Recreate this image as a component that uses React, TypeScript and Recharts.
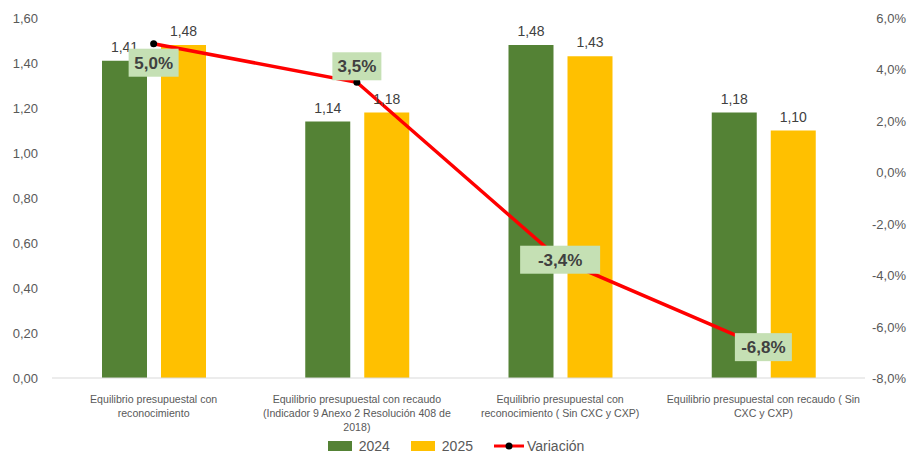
import React from 'react';
import {
  ComposedChart,
  Bar,
  Line,
  XAxis,
  YAxis,
  Legend,
  LabelList,
} from 'recharts';

const categories = [
  'Equilibrio presupuestal con\nreconocimiento',
  'Equilibrio presupuestal con recaudo\n(Indicador 9 Anexo 2 Resolución 408 de\n2018)',
  'Equilibrio presupuestal con\nreconocimiento ( Sin CXC y CXP)',
  'Equilibrio presupuestal con recaudo ( Sin\nCXC y CXP)',
];
const values2024 = [1.41, 1.14, 1.48, 1.18];
const values2025 = [1.48, 1.18, 1.43, 1.1];
const variacion = [5.0, 3.5, -3.4, -6.8];

const leftTicks = [0, 0.2, 0.4, 0.6, 0.8, 1.0, 1.2, 1.4, 1.6];
const rightTicks = [-8, -6, -4, -2, 0, 2, 4, 6];

const data = categories.map((name, i) => ({
  name,
  y2024: values2024[i],
  y2025: values2025[i],
  variacion: variacion[i],
}));

const FONT = "'Liberation Sans', Arial, sans-serif";
const GREEN = '#548235';
const YELLOW = '#FFC000';
const RED = '#FF0000';
const TEXT = '#595959';

const fmt2 = (v: number) => v.toFixed(2).replace('.', ',');
const fmtPct = (v: number) => v.toFixed(1).replace('.', ',') + '%';

// label placement tweaks for the variation boxes (dy, box width)
const boxDy = [19, -16, 0, 0];
const boxW = [50, 49, 80, 57];

const CategoryTick = (props: any) => {
  const { x, y, payload } = props;
  const lines = String(payload.value).split('\n');
  return (
    <g transform={`translate(${x},${y})`}>
      {lines.map((l, i) => (
        <text
          key={i}
          x={0}
          y={17 + i * 14}
          textAnchor="middle"
          fontSize={10.6}
          fill={TEXT}
          fontFamily={FONT}
        >
          {l}
        </text>
      ))}
    </g>
  );
};

const RightTick = (props: any) => {
  const { y, payload } = props;
  return (
    <text x={906} y={y + 5} textAnchor="end" fontSize={13} fill={TEXT} fontFamily={FONT}>
      {fmtPct(payload.value)}
    </text>
  );
};

const LeftTick = (props: any) => {
  const { y, payload } = props;
  return (
    <text x={38} y={y + 5} textAnchor="end" fontSize={13} fill={TEXT} fontFamily={FONT}>
      {fmt2(payload.value)}
    </text>
  );
};

const VarLabel = (props: any) => {
  const { x, y, value, index } = props;
  const w = boxW[index] ?? 56;
  const h = 28;
  const cy = y + (boxDy[index] ?? 0);
  return (
    <g>
      <rect x={x - w / 2} y={cy - h / 2} width={w} height={h} fill="#C5E0B4" />
      <text
        x={x}
        y={cy + 6}
        textAnchor="middle"
        fontSize={17}
        fontWeight="bold"
        fill="#404040"
        fontFamily={FONT}
      >
        {fmtPct(value)}
      </text>
    </g>
  );
};

const LegendContent = () => (
  <div
    style={{
      display: 'flex',
      justifyContent: 'center',
      alignItems: 'center',
      height: 26,
      paddingTop: 10,
      boxSizing: 'border-box',
      fontFamily: FONT,
      fontSize: 14,
      color: TEXT,
    }}
  >
    <span style={{ display: 'inline-block', width: 24, height: 10, background: GREEN, marginRight: 7 }} />
    <span style={{ marginRight: 21 }}>2024</span>
    <span style={{ display: 'inline-block', width: 24, height: 10, background: YELLOW, marginRight: 7 }} />
    <span style={{ marginRight: 21 }}>2025</span>
    <svg width={30} height={10} style={{ marginRight: 3 }}>
      <line x1={0} y1={5} x2={30} y2={5} stroke={RED} strokeWidth={3} />
      <circle cx={15} cy={5} r={3.5} fill="#000" />
    </svg>
    <span>Variación</span>
  </div>
);

export default function App() {
  return (
    <div style={{ position: 'absolute', left: 0, top: 0, background: '#fff' }}>
      <ComposedChart
        width={912}
        height={454}
        data={data}
        margin={{ top: 18, right: 0, left: 0, bottom: 0 }}
        barGap={14}
      >
        <XAxis
          dataKey="name"
          tick={<CategoryTick />}
          tickLine={false}
          axisLine={{ stroke: '#D9D9D9' }}
          height={50}
          interval={0}
        />
        <YAxis
          yAxisId="left"
          domain={[0, 1.6]}
          ticks={leftTicks}
          width={52}
          axisLine={false}
          tickLine={false}
          tick={<LeftTick />}
        />
        <YAxis
          yAxisId="right"
          orientation="right"
          domain={[-8, 6]}
          ticks={rightTicks}
          width={47}
          axisLine={false}
          tickLine={false}
          tick={<RightTick />}
        />
        <Legend
          verticalAlign="bottom"
          content={<LegendContent />}
          wrapperStyle={{ height: 26 }}
        />
        <Bar yAxisId="left" dataKey="y2024" name="2024" fill={GREEN} barSize={45} isAnimationActive={false}>
          <LabelList
            dataKey="y2024"
            position="top"
            offset={9}
            formatter={(v: any) => fmt2(Number(v))}
            style={{ fontSize: 14, fill: '#404040', fontFamily: FONT }}
          />
        </Bar>
        <Bar yAxisId="left" dataKey="y2025" name="2025" fill={YELLOW} barSize={45} isAnimationActive={false}>
          <LabelList
            dataKey="y2025"
            position="top"
            offset={9}
            formatter={(v: any) => fmt2(Number(v))}
            style={{ fontSize: 14, fill: '#404040', fontFamily: FONT }}
          />
        </Bar>
        <Line
          yAxisId="right"
          dataKey="variacion"
          name="Variación"
          stroke={RED}
          strokeWidth={3.5}
          dot={{ r: 3.5, fill: '#000', stroke: '#000', strokeWidth: 0 }}
          isAnimationActive={false}
        >
          <LabelList dataKey="variacion" content={<VarLabel />} />
        </Line>
      </ComposedChart>
    </div>
  );
}
